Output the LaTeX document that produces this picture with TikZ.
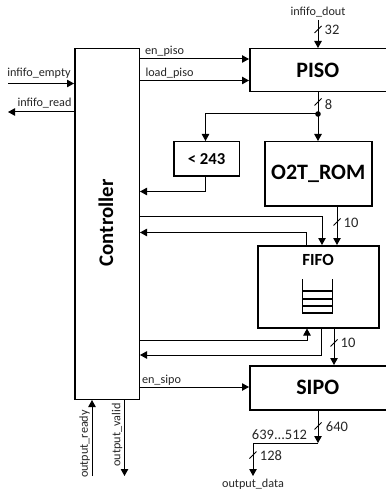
\documentclass[tikz,border=0pt]{standalone}
\usepackage{fontspec}
\setmainfont{Carlito}
\usetikzlibrary{arrows.meta,calc}
\tikzset{
  blockbox/.style={draw=black,line width=1.5bp,fill=white,anchor=north west,inner sep=0pt,font=\bfseries},
  wire/.style={draw=black,line width=1bp},
  arrowwire/.style={wire,-{Triangle[length=7bp,width=7.5bp]}},
  tick/.style={draw=black,line width=0.8bp},
  sig/.style={font=\fontsize{12.2bp}{14bp}\selectfont,inner sep=0pt,text=black!85},
  bus/.style={font=\fontsize{14.5bp}{16bp}\selectfont,inner sep=0pt,text=black!85},
  stackline/.style={draw=black,line width=1.3bp}
}
\begin{document}
\begin{tikzpicture}[x=1bp,y=-1bp]
\useasboundingbox (0,0) rectangle (385,493);
% blocks
\node[blockbox,minimum width=64.5bp,minimum height=350.5bp] (ctl) at (74,48) {};
\node[font=\fontsize{20.8bp}{24bp}\selectfont\bfseries,rotate=90,inner sep=0pt] (ctltxt) at (106,223) {Controller};
\node[blockbox,minimum width=139bp,minimum height=43bp,font=\fontsize{22bp}{26bp}\selectfont\bfseries] (piso) at (249,48) {\hspace{-3bp}PISO};
\node[blockbox,minimum width=65.5bp,minimum height=34bp,font=\fontsize{16.7bp}{20bp}\selectfont\bfseries] (cmp) at (173,141) {< 243};
\node[blockbox,minimum width=107bp,minimum height=64bp,font=\fontsize{22bp}{26bp}\selectfont\bfseries] (rom) at (264,141) {O2T\_ROM};
\node[blockbox,minimum width=121bp,minimum height=82bp] (fifo) at (257,245) {};
\node[font=\fontsize{17bp}{20bp}\selectfont\bfseries,inner sep=0pt] (fifotxt) at (318,260) {FIFO};
\node[blockbox,minimum width=139bp,minimum height=44bp,font=\fontsize{22bp}{26bp}\selectfont\bfseries] (sipo) at (249,365) {\hspace{-3bp}SIPO};
% stack icon
\draw[stackline] (302.5,279) -- (302.5,313) -- (332.5,313) -- (332.5,279);
\draw[stackline] (302.5,291) -- (332.5,291);
\draw[stackline] (302.5,299) -- (332.5,299);
\draw[stackline] (302.5,306) -- (332.5,306);
% coordinates
\coordinate (dout) at (318,20);
\coordinate (dot) at (318,114);
\coordinate (cb) at (205.5,114);
\coordinate (cr) at (205.5,191.5);
\coordinate (w1) at (322,216);
\coordinate (w2) at (306,232.5);
\coordinate (w3) at (307,340);
\coordinate (w4) at (321,355);
\coordinate (sj) at (318,443);
\coordinate (oj) at (253,443);
\coordinate (oe) at (253,476);
\coordinate (ie) at (8,83.5);
\coordinate (ir) at (8,112);
\coordinate (ordy) at (92,476);
\coordinate (ovld) at (124.5,476);
% connectors
\draw[arrowwire] (ctl.east |- 0,59) -- (piso.west |- 0,59);
\draw[arrowwire] (ctl.east |- 0,80.5) -- (piso.west |- 0,80.5);
\draw[arrowwire] (ie) -- (ctl.west |- ie);
\draw[arrowwire] (ctl.west |- ir) -- (ir);
\draw[arrowwire] (dout) -- (dout |- piso.north);
\draw[wire] (dot |- piso.south) -- (dot);
\draw[arrowwire] (dot) -- (dot |- rom.north);
\fill (dot) circle (2.8bp);
\draw[arrowwire] (dot) -- (cb) -- (cb |- cmp.north);
\draw[arrowwire] (cr |- cmp.south) -- (cr) -- (ctl.east |- cr);
\draw[arrowwire] (337,205) -- (337,245);
\draw[arrowwire] (ctl.east |- w1) -- (w1) -- (w1 |- fifo.north);
\draw[arrowwire] (w2 |- fifo.north) -- (w2) -- (ctl.east |- w2);
\draw[arrowwire] (ctl.east |- w3) -- (w3) -- (w3 |- fifo.south);
\draw[arrowwire] (w4 |- fifo.south) -- (w4) -- (ctl.east |- w4);
\draw[arrowwire] (334,327) -- (334,365);
\draw[arrowwire] (ctl.east |- 0,387) -- (sipo.west |- 0,387);
\draw[arrowwire] (sj |- sipo.south) -- (sj);
\draw[arrowwire] (sj) -- (oj) -- (oe);
\draw[arrowwire] (ordy) -- (ordy |- ctl.south);
\draw[arrowwire] (ovld |- ctl.south) -- (ovld);
% bus ticks
\foreach \tx/\ty in {318/29.5,318/102,337/222,334/343,318/426,253/455}
  \draw[tick,shift={(\tx,\ty)}] (-3.5,3.5) -- (3.5,-3.5);
% labels
\node[sig] (l1) at (164.5,51.5) {en\_piso};
\node[sig] (l2) at (169.5,73.5) {load\_piso};
\node[sig] (l3) at (39,73.5) {infifo\_empty};
\node[sig] (l4) at (44.5,103) {infifo\_read};
\node[sig] (l5) at (318,12.5) {infifo\_dout};
\node[sig] (l6) at (161.5,380) {en\_sipo};
\node[sig] (l7) at (253,484) {output\_data};
\node[sig,rotate=90] (l8) at (84.5,444) {output\_ready};
\node[sig,rotate=90] (l9) at (117,435) {output\_valid};
\node[bus] (b1) at (332,29.5) {32};
\node[bus] (b2) at (328.5,105) {8};
\node[bus] (b3) at (351,222.5) {10};
\node[bus] (b4) at (348,343) {10};
\node[bus] (b5) at (337,426.5) {640};
\node[bus] (b6) at (279.5,434.5) {639...512};
\node[bus] (b7) at (271,455.5) {128};
\end{tikzpicture}
\end{document}
